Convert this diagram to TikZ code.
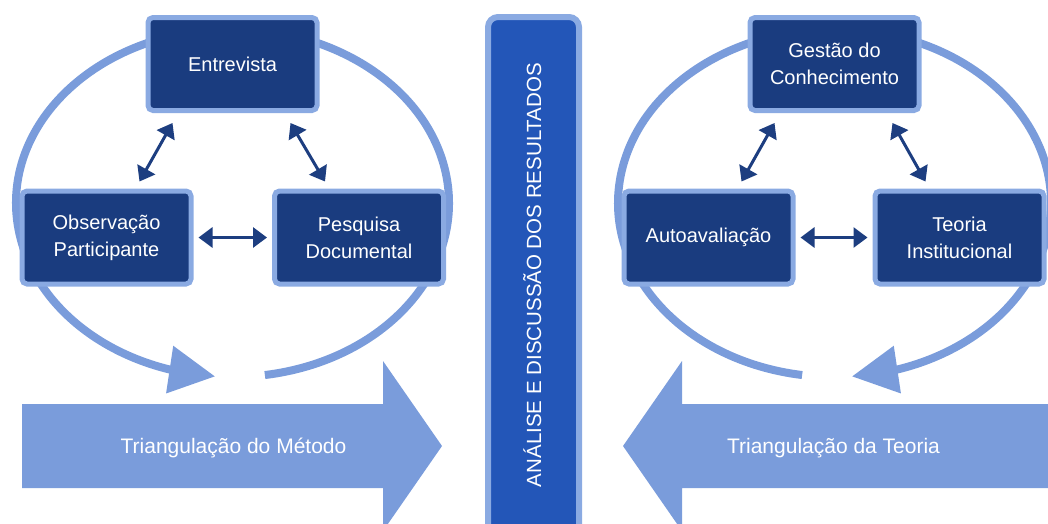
\documentclass[tikz,border=0pt]{standalone}
\usepackage{fontspec}
\setmainfont{Liberation Sans}
\usetikzlibrary{arrows.meta,bending,calc}
\definecolor{lb}{HTML}{7A9CDB}
\definecolor{lbb}{HTML}{8AAAE2}
\definecolor{db}{HTML}{1A3C7F}
\definecolor{da}{HTML}{1D3E80}
\definecolor{cb}{HTML}{2356B8}
\begin{document}
\begin{tikzpicture}[x=1pt,y=1pt,
  box/.style={draw=lbb, line width=5pt, fill=db, rounded corners=5pt,
    minimum width=169pt, minimum height=93pt, text=white, align=center,
    font=\fontsize{20}{27}\selectfont, inner sep=0pt},
  dbl/.style={draw=da, line width=3pt,
    {Triangle[length=14pt,width=20pt]}-{Triangle[length=14pt,width=20pt]}},
  ring/.style={draw=lb, line width=8pt, -{Triangle[length=46pt,width=46pt]}},
  bigarrow/.style={fill=lb},
  lbl/.style={text=white, font=\fontsize{21}{25}\selectfont, anchor=base}]
\useasboundingbox (0,0) rectangle (1048,-523);
\clip (0,0) rectangle (1048,-523);
% cycles
\coordinate (cl) at (232.5,-203);
\coordinate (cr) at (834.5,-203);
\draw[ring] (cl) ++(-81.4:216.5 and 174)
  arc[start angle=-81.4,end angle=265.4,x radius=216.5,y radius=174];
\draw[ring] (cr) ++(261.4:216.5 and 174)
  arc[start angle=261.4,end angle=-85.4,x radius=216.5,y radius=174];
% boxes
\node[box] (e) at (232.5,-64) {Entrevista};
\node[box] (o) at (106.5,-237.5) {Observação\\Participante};
\node[box] (p) at (359,-237.5) {Pesquisa\\Documental};
\node[box] (g) at (834.5,-64) {Gestão do\\Conhecimento};
\node[box] (a) at (708.5,-237.5) {Autoavaliação};
\node[box] (t) at (959.5,-237.5) {Teoria\\Institucional};
% connectors
\draw[dbl] ([shift={(27,-10)}]e.south west) -- ([shift={(-54,7)}]o.north east);
\draw[dbl] ([shift={(-29,-10)}]e.south east) -- ([shift={(53,7)}]p.north west);
\draw[dbl, shorten <=5pt, shorten >=5pt] (o.east) -- (p.west);
\draw[dbl] ([shift={(27,-10)}]g.south west) -- ([shift={(-54,7)}]a.north east);
\draw[dbl] ([shift={(-29,-10)}]g.south east) -- ([shift={(53,7)}]t.north west);
\draw[dbl, shorten <=5pt, shorten >=5pt] (a.east) -- (t.west);
% central bar
\node[draw=lbb, line width=6pt, fill=cb, rounded corners=10pt,
  minimum width=91pt, minimum height=523pt, anchor=north] (bar) at (533.5,-14) {};
\node[rotate=90, anchor=base, text=white, font=\fontsize{20.5}{24}\selectfont]
  (bt) at (541,-275) {ANÁLISE E DISCUSSÃO DOS RESULTADOS};
% big arrows
\fill[bigarrow] (22,-404) -- (383,-404) -- (383,-361) -- (442,-446)
  -- (383,-531) -- (383,-488) -- (22,-488) -- cycle;
\fill[bigarrow] (1060,-404) -- (682,-404) -- (682,-361) -- (623,-446)
  -- (682,-531) -- (682,-488) -- (1060,-488) -- cycle;
\node[lbl] (tm) at (233.5,-453) {Triangulação do Método};
\node[lbl] (tt) at (833.5,-453) {Triangulação da Teoria};
\end{tikzpicture}
\end{document}
